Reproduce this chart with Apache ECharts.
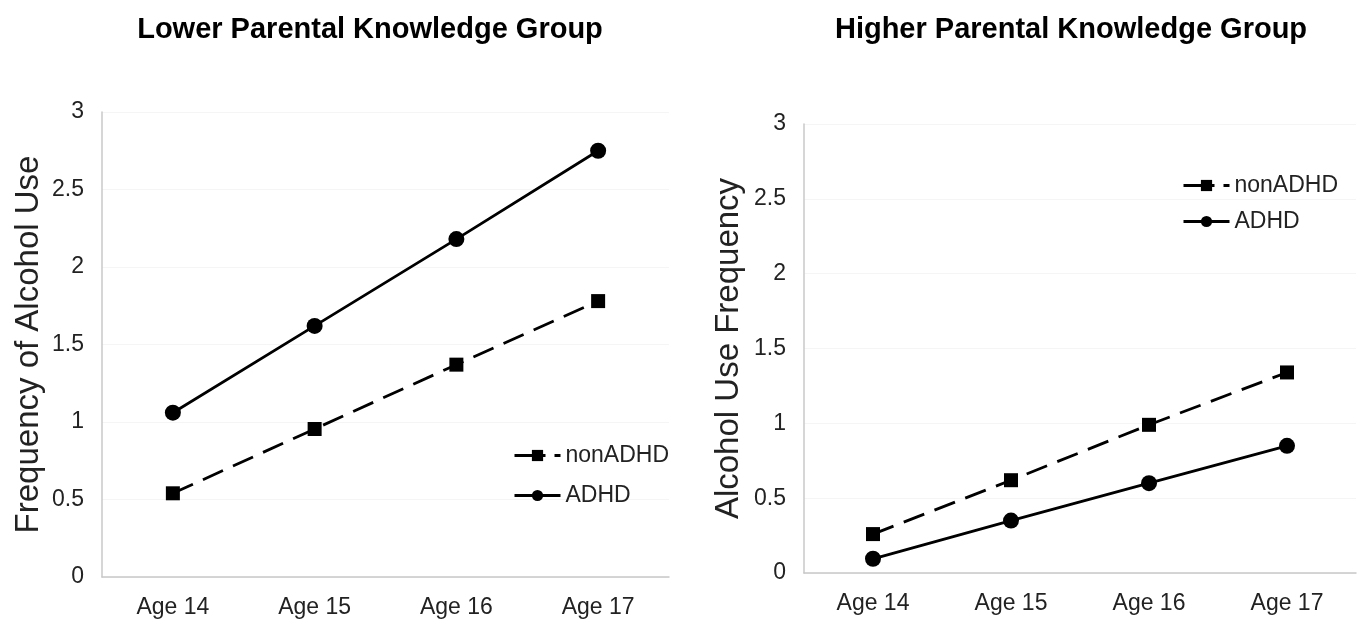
<!DOCTYPE html>
<html>
<head>
<meta charset="utf-8">
<script src="https://cdn.jsdelivr.net/npm/echarts@6/dist/echarts.min.js"></script>
<style>html,body{margin:0;padding:0;background:#fff;}#c{width:1361px;height:622px;}</style>
</head>
<body>
<div id="c"></div>
<script>
const categories = ['Age 14', 'Age 15', 'Age 16', 'Age 17'];
const lowerNonADHD = [0.54, 0.955, 1.37, 1.78];
const lowerADHD = [1.06, 1.62, 2.18, 2.75];
const higherNonADHD = [0.26, 0.62, 0.99, 1.34];
const higherADHD = [0.095, 0.35, 0.60, 0.85];
const titles = ['Lower Parental Knowledge Group', 'Higher Parental Knowledge Group'];
const yNames = ['Frequency of Alcohol Use', 'Alcohol Use Frequency'];
const seriesNames = ['nonADHD', 'ADHD'];

const font = 'Liberation Sans, Arial, sans-serif';
const chart = echarts.init(document.getElementById('c'));

function xAxis(i) {
  return {
    type: 'category', gridIndex: i, data: categories, boundaryGap: true,
    axisLine: { lineStyle: { color: '#c8c8c8', width: 1.5 } },
    axisTick: { show: false },
    axisLabel: { color: '#222', fontSize: 23, fontFamily: font, margin: 19 }
  };
}
function yAxis(i) {
  return {
    type: 'value', gridIndex: i, min: 0, max: 3, interval: 0.5,
    name: yNames[i], nameLocation: 'middle', nameGap: i === 0 ? 57 : 59, nameRotate: 90,
    nameTextStyle: { color: '#222', fontSize: 33, fontFamily: font },
    axisLine: { show: true, lineStyle: { color: '#c8c8c8', width: 1.5 } },
    axisTick: { show: false },
    splitLine: { show: true, lineStyle: { color: '#f5f5f5', width: 1 } },
    axisLabel: { color: '#222', fontSize: 23, fontFamily: font, margin: 18 }
  };
}
function series(name, data, i, dashed) {
  return {
    name: name, type: 'line', xAxisIndex: i, yAxisIndex: i, data: data,
    symbol: dashed ? 'rect' : 'circle', symbolSize: dashed ? 14 : 16,
    itemStyle: { color: '#000' },
    lineStyle: { color: '#000', width: 2.8, type: dashed ? [22, 11] : 'solid' },
    animation: false
  };
}
function legend(left, top, gap) {
  return {
    left: left, top: top, orient: 'vertical', itemWidth: 46, itemHeight: 14, itemGap: gap,
    selectedMode: false,
    data: [
      { name: seriesNames[0], lineStyle: { type: [31, 9], width: 3 } },
      { name: seriesNames[1], lineStyle: { width: 3 } }
    ],
    textStyle: { fontSize: 23, color: '#222', fontFamily: font, padding: [0, 0, 0, 0] }
  };
}
function title(text, x) {
  return { text: text, left: x, top: 10, textAlign: 'center',
    textStyle: { fontSize: 29, fontWeight: 'bold', color: '#000', fontFamily: font } };
}
chart.setOption({
  backgroundColor: '#fff',
  title: [title(titles[0], 365), title(titles[1], 1066)],
  legend: [legend(508, 439, 17), legend(1177, 169, 13)],
  grid: [
    { left: 102, right: 692, top: 112, bottom: 45 },
    { left: 804, right: 5, top: 124, bottom: 49 }
  ],
  xAxis: [xAxis(0), xAxis(1)],
  yAxis: [yAxis(0), yAxis(1)],
  series: [
    series(seriesNames[0], lowerNonADHD, 0, true),
    series(seriesNames[1], lowerADHD, 0, false),
    series(seriesNames[0], higherNonADHD, 1, true),
    series(seriesNames[1], higherADHD, 1, false)
  ]
});
</script>
</body>
</html>
